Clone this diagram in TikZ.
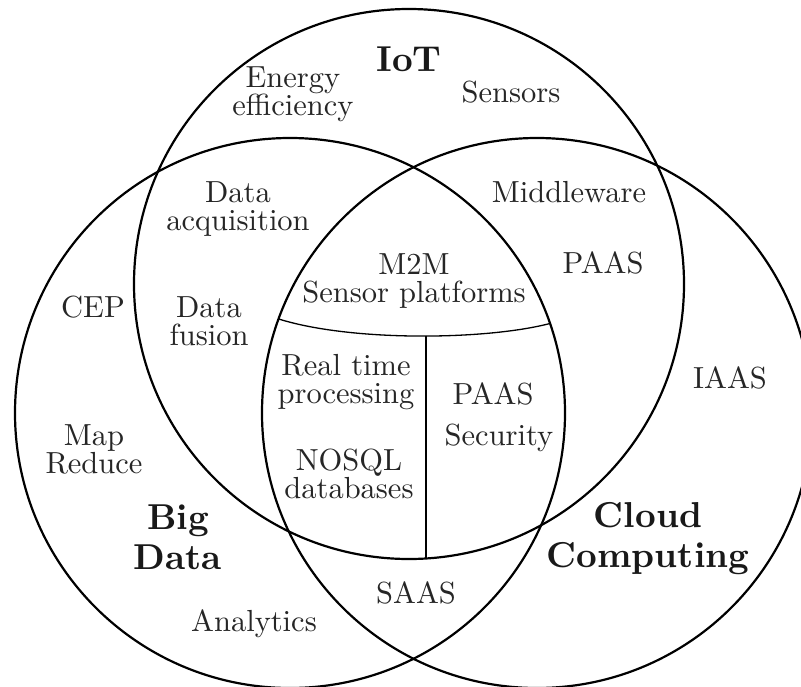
\documentclass[tikz,border=0pt]{standalone}
\usepackage{fontspec}
\newfontfamily\lmten{lmroman10-regular}[Extension=.otf, BoldFont=lmroman10-bold]
\tikzset{
  ring/.style={draw, circle, line width=2.2pt, inner sep=0pt, outer sep=0pt, minimum size=550pt},
  divider/.style={line width=1.3pt},
  lbl/.style={font=\lmten\fontsize{30.5}{28}\selectfont, align=center, inner sep=0pt, anchor=base, text=black!85},
  title/.style={font=\lmten\bfseries\fontsize{36}{40}\selectfont, align=center, inner sep=0pt, anchor=base, text=black!90},
}
\begin{document}
\begin{tikzpicture}[x=1pt, y=-1pt]
  \clip (0,0) rectangle (801,686);
  \fill[white] (0,0) rectangle (801,686);
  % circles
  \node[ring] (iot) at (409,284) {};
  \node[ring] (bigdata) at (290,413) {};
  \node[ring] (cloud) at (537,413) {};
  % dividers of the central region
  \coordinate (vtop) at (426,335.5);
  \draw[divider] (cloud.160.5) .. controls (352,342) and (487,340) .. (bigdata.19.5);
  \draw[divider] (vtop) -- (vtop |- iot.south);
  % labels (anchor = baseline of the last line)
  \node[title] (tiot) at (409,71) {IoT};
  \node[lbl] (energy) at (293,115) {Energy\\efficiency};
  \node[lbl] (sensors) at (511,102) {Sensors};
  \node[lbl] (acq) at (238,230) {Data\\acquisition};
  \node[lbl] (mw) at (569,202) {Middleware};
  \node[lbl] (m2m) at (414,302) {M2M\\Sensor platforms};
  \node[lbl] (paas1) at (603,273) {PAAS};
  \node[lbl] (cep) at (93,317) {CEP};
  \node[lbl] (fusion) at (209,345) {Data\\fusion};
  \node[lbl] (rtp) at (346,403) {Real time\\processing};
  \node[lbl] (iaas) at (730,388) {IAAS};
  \node[lbl] (paas2) at (493,404) {PAAS};
  \node[lbl] (sec) at (499,445) {Security};
  \node[lbl] (mapred) at (94,473) {Map\\Reduce};
  \node[lbl] (nosql) at (349,498) {NOSQL\\databases};
  \node[title] (tbig) at (178,569) {Big\\Data};
  \node[title] (tcloud) at (648,567) {Cloud\\Computing};
  \node[lbl] (saas) at (416,603) {SAAS};
  \node[lbl] (analytics) at (254,631) {Analytics};
\end{tikzpicture}
\end{document}
